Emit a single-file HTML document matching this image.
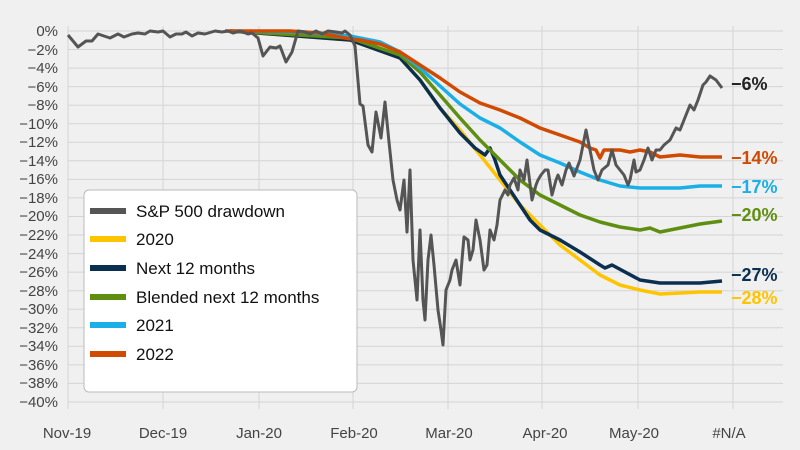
<!DOCTYPE html><html><head><style>body{margin:0;background:#f0f0f0}svg{display:block;font-family:"Liberation Sans",sans-serif}</style></head><body>
<svg width="800" height="450" viewBox="0 0 800 450">
<rect width="800" height="450" fill="#f0f0f0"/>
<g stroke="#d4d4d4" stroke-width="1">
<line x1="68" y1="31" x2="783" y2="31"/><line x1="68" y1="49.5" x2="783" y2="49.5"/><line x1="68" y1="68.1" x2="783" y2="68.1"/><line x1="68" y1="86.6" x2="783" y2="86.6"/><line x1="68" y1="105.2" x2="783" y2="105.2"/><line x1="68" y1="123.7" x2="783" y2="123.7"/><line x1="68" y1="142.3" x2="783" y2="142.3"/><line x1="68" y1="160.8" x2="783" y2="160.8"/><line x1="68" y1="179.4" x2="783" y2="179.4"/><line x1="68" y1="197.9" x2="783" y2="197.9"/><line x1="68" y1="216.5" x2="783" y2="216.5"/><line x1="68" y1="235" x2="783" y2="235"/><line x1="68" y1="253.6" x2="783" y2="253.6"/><line x1="68" y1="272.1" x2="783" y2="272.1"/><line x1="68" y1="290.7" x2="783" y2="290.7"/><line x1="68" y1="309.2" x2="783" y2="309.2"/><line x1="68" y1="327.8" x2="783" y2="327.8"/><line x1="68" y1="346.3" x2="783" y2="346.3"/><line x1="68" y1="364.9" x2="783" y2="364.9"/><line x1="68" y1="383.4" x2="783" y2="383.4"/><line x1="68" y1="402" x2="783" y2="402"/>
<line x1="68" y1="26" x2="68" y2="409"/><line x1="163" y1="26" x2="163" y2="409"/><line x1="259" y1="26" x2="259" y2="409"/><line x1="353" y1="26" x2="353" y2="409"/><line x1="448" y1="26" x2="448" y2="409"/><line x1="542" y1="26" x2="542" y2="409"/><line x1="638" y1="26" x2="638" y2="409"/><line x1="733" y1="26" x2="733" y2="409"/>
</g>
<g font-size="15" fill="#444" text-anchor="end">
<text x="58" y="36">0%</text><text x="58" y="55">−2%</text><text x="58" y="73">−4%</text><text x="58" y="92">−6%</text><text x="58" y="110">−8%</text><text x="58" y="129">−10%</text><text x="58" y="147">−12%</text><text x="58" y="166">−14%</text><text x="58" y="184">−16%</text><text x="58" y="203">−18%</text><text x="58" y="221">−20%</text><text x="58" y="240">−22%</text><text x="58" y="259">−24%</text><text x="58" y="277">−26%</text><text x="58" y="296">−28%</text><text x="58" y="314">−30%</text><text x="58" y="333">−32%</text><text x="58" y="351">−34%</text><text x="58" y="370">−36%</text><text x="58" y="388">−38%</text><text x="58" y="407">−40%</text>
</g>
<g font-size="15" fill="#444" text-anchor="middle">
<text x="67" y="438">Nov-19</text><text x="163" y="438">Dec-19</text><text x="259" y="438">Jan-20</text><text x="354" y="438">Feb-20</text><text x="449" y="438">Mar-20</text><text x="545" y="438">Apr-20</text><text x="634" y="438">May-20</text><text x="729" y="438">#N/A</text>
</g>
<g fill="none" stroke-width="3.5" stroke-linejoin="round">
<polyline stroke="#ffc400" points="230,31 350,40 400,58 420,80 440,108 460,130 480,155 500,180 520,205 540,225 560,245 580,260 600,275 620,285 640,290 660,294 680,293 700,292 722,292"/>
<polyline stroke="#0b2f4f" points="230,31 350,40 400,58 420,80 440,108 460,133 475,148 485,155 490,148 495,160 500,175 510,190 520,205 530,220 540,230 560,240 580,252 600,265 605,268 612,265 640,280 660,283 680,283 700,283 722,281"/>
<polyline stroke="#5f8f10" points="230,31 350,38 400,55 420,72 440,95 460,118 480,140 500,160 520,180 540,195 560,205 580,215 600,222 620,227 640,230 650,228 660,232 680,228 700,224 722,221"/>
<polyline stroke="#1aafe6" points="230,31 300,32 350,36 380,42 400,52 420,68 440,86 460,104 480,118 500,128 520,142 540,155 560,163 580,172 600,180 620,186 640,188 660,188 680,188 700,186 722,186"/>
<polyline stroke="#d04a02" points="225,31 290,31 320,33 345,38 360,40 380,44 400,52 420,65 440,78 460,92 480,103 500,110 520,118 540,128 560,135 580,142 590,148 596,150 600,158 604,150 620,150 630,152 640,150 650,152 660,157 680,155 700,157 722,157"/>
<polyline stroke="#555" stroke-width="3" points="68,35 78,47 86,41 92,41 98,34 110,38 118,34 124,37 132,34 138,33 145,34 150,31 158,32 163,31 170,37 176,34 182,34 186,32 192,36 198,33 205,34 215,31 222,32 228,31 233,33 240,31 248,34 252,33 258,38 263,56 270,47 276,48 280,46 286,62 292,52 298,31 305,32 310,34 316,31 322,34 328,31 336,32 342,33 345,31 350,35 355,46 360,104 363,106 368,145 372,152 376,112 381,138 385,102 389,142 393,180 397,200 400,210 404,180 407,232 410,170 413,260 417,300 420,230 423,300 425,320 428,260 431,235 434,265 438,310 441,330 443,345 446,290 450,280 452,270 456,260 460,285 462,260 464,237 468,240 470,260 473,250 476,220 480,240 484,270 487,265 490,230 494,240 497,225 500,200 505,190 508,195 510,185 514,178 518,190 520,170 524,180 527,160 532,200 536,185 538,180 541,175 545,170 548,170 552,195 556,180 558,175 562,185 566,170 569,163 574,176 580,160 584,140 586,130 590,150 594,170 598,180 602,170 608,165 612,150 616,165 620,170 624,175 628,185 630,180 634,160 636,172 640,170 644,160 648,148 652,160 656,150 660,150 664,145 670,140 676,128 680,130 684,120 690,105 694,110 698,100 703,85 706,82 710,76 716,80 722,88"/>
</g>
<g font-size="18" font-weight="bold">
<text x="731" y="90" fill="#222">−6%</text>
<text x="731" y="164" fill="#d04a02">−14%</text>
<text x="731" y="193" fill="#1aafe6">−17%</text>
<text x="731" y="221" fill="#5f8f10">−20%</text>
<text x="731" y="281" fill="#0b2f4f">−27%</text>
<text x="731" y="304" fill="#ffc400">−28%</text>
</g>
<rect x="84" y="190" width="273" height="202" rx="5" fill="#fff" stroke="#bbb"/>
<g stroke-width="6">
<line x1="90" y1="211" x2="126" y2="211" stroke="#555"/>
<line x1="90" y1="239" x2="126" y2="239" stroke="#ffc400"/>
<line x1="90" y1="268" x2="126" y2="268" stroke="#0b2f4f"/>
<line x1="90" y1="297" x2="126" y2="297" stroke="#5f8f10"/>
<line x1="90" y1="325" x2="126" y2="325" stroke="#1aafe6"/>
<line x1="90" y1="354" x2="126" y2="354" stroke="#d04a02"/>
</g>
<g font-size="17" fill="#111">
<text x="136" y="217">S&amp;P 500 drawdown</text>
<text x="136" y="245">2020</text>
<text x="136" y="274">Next 12 months</text>
<text x="136" y="303">Blended next 12 months</text>
<text x="136" y="331">2021</text>
<text x="136" y="360">2022</text>
</g>
</svg></body></html>
